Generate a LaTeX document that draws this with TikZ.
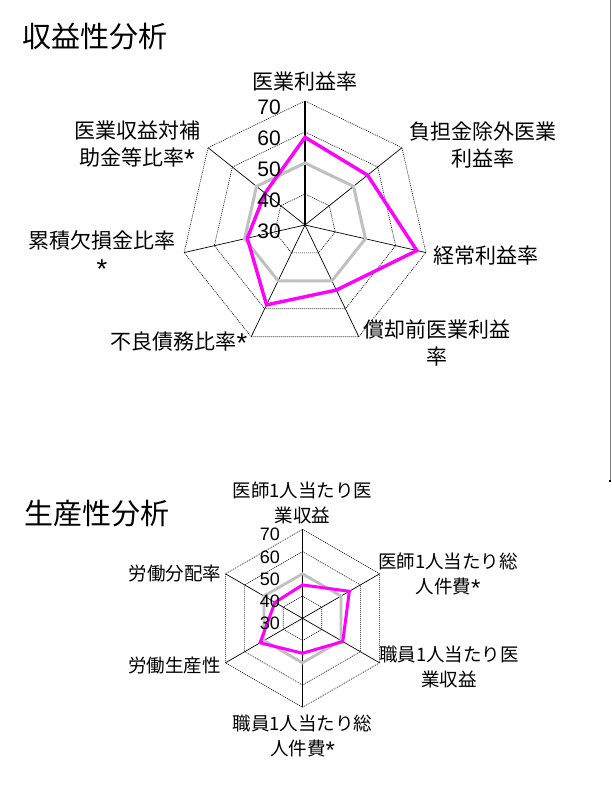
\documentclass[tikz,border=0pt]{standalone}
\usepackage{fontspec}
\usepackage{graphicx}
\setmainfont{Noto Sans CJK JP}
\newfontfamily\numfont{Liberation Sans}
\newcommand{\myast}{\raisebox{-0.14em}{\scalebox{1.3}{\numfont *}}}
\definecolor{serM}{HTML}{FF00FF}
\definecolor{serG}{HTML}{C0C0C0}
\definecolor{edge}{HTML}{808080}
\tikzset{
  ring/.style={black, line width=0.6pt, dash pattern=on 1pt off 1pt},
  axisln/.style={black, line width=0.7pt},
  vaxisA/.style={black, line width=1.8pt},
  vaxisB/.style={black, line width=1.3pt},
  serieM/.style={serM, line width=3.4pt, line join=miter},
  serieG/.style={serG, line width=3pt, line join=miter},
  serieMb/.style={serM, line width=3pt, line join=miter},
  serieGb/.style={serG, line width=2.8pt, line join=miter},
  titletext/.style={font=\fontsize{29}{32}\selectfont, inner sep=0pt},
  labA/.style={font=\fontsize{21}{27}\selectfont, align=center, inner sep=0pt},
  labB/.style={font=\fontsize{18.5}{25}\selectfont, align=center, inner sep=0pt},
  numA/.style={font=\fontsize{21}{21}\numfont, inner sep=0pt, anchor=east},
  numB/.style={font=\fontsize{18}{18}\numfont, inner sep=0pt, anchor=east},
}
\begin{document}
\begin{tikzpicture}[x=1pt,y=-1pt]
\useasboundingbox (0,0) rectangle (611,802);
\fill[white] (0,0) rectangle (611,802);

% ---------- top chart: 7 axes ----------
\def\cxa{305}\def\cya{225}\def\Ra{124}
\coordinate (A-c) at (\cxa,\cya);
\foreach \k in {0,...,6}{
  \foreach \j in {1,...,4}{
    \coordinate (A-\j-\k) at ({\cxa+\j*\Ra/4*cos(90-\k*360/7)},{\cya-\j*\Ra/4*sin(90-\k*360/7)});
  }
}
\foreach \j in {1,...,4}{
  \draw[ring] (A-\j-0) \foreach \k in {1,...,6}{ -- (A-\j-\k)} -- cycle;
}
\foreach \k in {1,...,6}{ \draw[axisln] (A-c) -- (A-4-\k); }
\draw[vaxisA] (A-c) -- (A-4-0);

\foreach \v [count=\k from 0] in {50,50,50,50,50,50,50}{
  \coordinate (AG-\k) at ({\cxa+(\v-30)/40*\Ra*cos(90-\k*360/7)},{\cya-(\v-30)/40*\Ra*sin(90-\k*360/7)});
}
\foreach \v [count=\k from 0] in {58.3,55.8,67,53.3,58.6,49.1,46.5}{
  \coordinate (AM-\k) at ({\cxa+(\v-30)/40*\Ra*cos(90-\k*360/7)},{\cya-(\v-30)/40*\Ra*sin(90-\k*360/7)});
}
\draw[serieG] (AG-0) \foreach \k in {1,...,6}{ -- (AG-\k)} -- cycle;
\draw[serieM] (AM-0) \foreach \k in {1,...,6}{ -- (AM-\k)} -- cycle;

\node[numA] (a70) at (281,107) {70};
\node[numA] (a60) at (281,138) {60};
\node[numA] (a50) at (281,169) {50};
\node[numA] (a40) at (281,200) {40};
\node[numA] (a30) at (281,231) {30};

\node[labA] (la0) at (305,81.5) {医業利益率};
\node[labA] (la1) at (482.5,145) {負担金除外医業\\利益率};
\node[labA] (la2) at (485.5,256) {経常利益率};
\node[labA] (la3) at (437,342.5) {償却前医業利益\\率};
\node[labA] (la4) at (179,342) {不良債務比率\myast};
\node[labA] (la5) at (102,254.5) {累積欠損金比率\\\myast};
\node[labA] (la6) at (137,145) {医業収益対補\\助金等比率\myast};

\node[titletext] (t1) at (94.5,37) {収益性分析};

% ---------- bottom chart: 6 axes ----------
\def\cxb{302.5}\def\cyb{618.3}\def\Rb{89}
\coordinate (B-c) at (\cxb,\cyb);
\foreach \k in {0,...,5}{
  \foreach \j in {1,...,4}{
    \coordinate (B-\j-\k) at ({\cxb+\j*\Rb/4*cos(90-\k*60)},{\cyb-\j*\Rb/4*sin(90-\k*60)});
  }
}
\foreach \j in {1,...,4}{
  \draw[ring] (B-\j-0) \foreach \k in {1,...,5}{ -- (B-\j-\k)} -- cycle;
}
\foreach \k in {1,...,5}{ \draw[axisln] (B-c) -- (B-4-\k); }
\draw[vaxisB] (B-c) -- (B-4-0);

\foreach \v [count=\k from 0] in {50,50,50,50,50,50}{
  \coordinate (BG-\k) at ({\cxb+(\v-30)/40*\Rb*cos(90-\k*60)},{\cyb-(\v-30)/40*\Rb*sin(90-\k*60)});
}
\foreach \v [count=\k from 0] in {45,54.3,50.9,45.7,52,44.3}{
  \coordinate (BM-\k) at ({\cxb+(\v-30)/40*\Rb*cos(90-\k*60)},{\cyb-(\v-30)/40*\Rb*sin(90-\k*60)});
}
\draw[serieGb] (BG-0) \foreach \k in {1,...,5}{ -- (BG-\k)} -- cycle;
\draw[serieMb] (BM-0) \foreach \k in {1,...,5}{ -- (BM-\k)} -- cycle;

\node[numB] (b70) at (280,534.5) {70};
\node[numB] (b60) at (280,556.8) {60};
\node[numB] (b50) at (280,579) {50};
\node[numB] (b40) at (280,601.2) {40};
\node[numB] (b30) at (280,623.4) {30};

\node[labB] (lb0) at (302.5,503) {医師1人当たり医\\業収益};
\node[labB] (lb1) at (448,574.5) {医師1人当たり総\\人件費\myast};
\node[labB] (lb2) at (449,666.5) {職員1人当たり医\\業収益};
\node[labB] (lb3) at (302.5,737) {職員1人当たり総\\人件費\myast};
\node[labB] (lb4) at (174.5,665.5) {労働生産性};
\node[labB] (lb5) at (175,573.5) {労働分配率};

\node[titletext] (t2) at (96.5,513.5) {生産性分析};

% ---------- right edge line ----------
\coordinate (e-top) at (610.5,0);
\coordinate (e-bot) at (610.5,481);
\draw[edge, line width=1pt] (e-top) -- (e-bot);
\fill[black] (608.5,479.5) rectangle (610.5,482);
\end{tikzpicture}
\end{document}
